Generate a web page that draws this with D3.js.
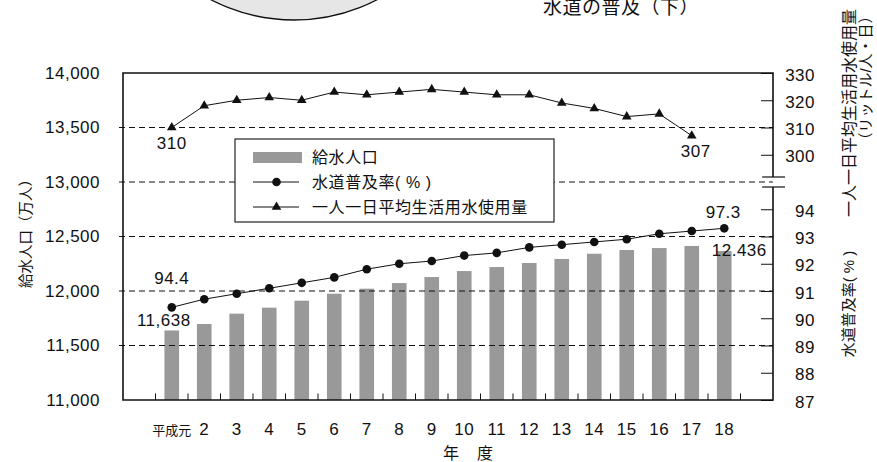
<!DOCTYPE html>
<html>
<head>
<meta charset="utf-8">
<script src="https://cdn.jsdelivr.net/npm/d3@7"></script>
<style>
  body { margin: 0; background: #fff; }
  svg { display: block; }
  text { font-family: "Liberation Sans", "Noto Sans CJK JP", sans-serif; fill: #111; }
  .num { font-size: 17px; letter-spacing: 0.5px; }
</style>
</head>
<body>
<svg id="chart" width="877" height="462"></svg>
<script>
// 年度 (平成)
const years = ["平成元", "2", "3", "4", "5", "6", "7", "8", "9", "10", "11", "12", "13", "14", "15", "16", "17", "18"];
// 給水人口 (万人)
const population = [11638, 11697, 11792, 11847, 11911, 11975, 12021, 12073, 12128, 12183, 12220, 12257, 12294, 12342, 12376, 12394, 12413, 12436];
// 水道普及率 (%)
const coverage = [94.4, 94.7, 94.9, 95.1, 95.3, 95.5, 95.8, 96.0, 96.1, 96.3, 96.4, 96.6, 96.7, 96.8, 96.9, 97.1, 97.2, 97.3];
// 一人一日平均生活用水使用量 (リットル/人・日), 平成元〜17
const usageYears = years.slice(0, 17);
const usage = [310, 318, 320, 321, 320, 323, 322, 323, 324, 323, 322, 322, 319, 317, 314, 315, 307];

// axis ticks
const popTicks = [11000, 11500, 12000, 12500, 13000, 13500, 14000];
const usageTicks = [300, 310, 320, 330];
const coverageTicks = [91, 92, 93, 94, 95, 96, 97, 98];
const coverageTickLabels = ["87", "88", "89", "90", "91", "92", "93", "94"];

const svg = d3.select("#chart");
const plotL = 123, plotR = 773, plotT = 73, plotB = 400;

const x = d3.scaleBand().domain(years).range([155.5, 740.5]).paddingInner(0.55).paddingOuter(0.275);
const cx = d => x(d) + x.bandwidth() / 2;
const yPop = d3.scaleLinear().domain([11000, 14000]).range([plotB, plotT]);
const yUse = d3.scaleLinear().domain([300, 330]).range([yPop(13250), plotT]);
const yCov = d3.scaleLinear().domain([91, 98]).range([plotB, yPop(11000 + 250 * 7)]);

// decorative disc at the top
svg.append("circle").attr("cx", 294).attr("cy", -160).attr("r", 180)
  .attr("fill", "#e6e6e6").attr("stroke", "#111").attr("stroke-width", 1.3);
svg.append("text").attr("x", 543).attr("y", 14).attr("font-size", 19)
  .attr("letter-spacing", 0.5).text("水道の普及（下）");

// bars
svg.append("g").selectAll("rect").data(population).join("rect")
  .attr("x", (d, i) => x(years[i]))
  .attr("width", x.bandwidth())
  .attr("y", d => yPop(d))
  .attr("height", d => plotB - yPop(d))
  .attr("fill", "#999");

// dashed grid
const grid = popTicks.filter(t => t > 11000 && t < 14000);
svg.append("g").selectAll("line").data(grid).join("line")
  .attr("x1", plotL - 4).attr("x2", plotR)
  .attr("y1", d => yPop(d)).attr("y2", d => yPop(d))
  .attr("stroke", "#111").attr("stroke-width", 1).attr("stroke-dasharray", "6,4");

// left axis labels
const axL = svg.append("g").attr("transform", `translate(${plotL},0)`)
  .call(d3.axisLeft(yPop).tickValues(popTicks).tickFormat(d3.format(",")).tickSize(0).tickPadding(23));
axL.select(".domain").remove();
axL.selectAll("text").attr("class", "num").attr("font-size", null).attr("font-family", null);

// right axis (upper: usage, lower: coverage)
const axU = svg.append("g").attr("transform", `translate(${plotR},0)`)
  .call(d3.axisRight(yUse).tickValues(usageTicks).tickSize(-12).tickPadding(0));
const axC = svg.append("g").attr("transform", `translate(${plotR},0)`)
  .call(d3.axisRight(yCov).tickValues(coverageTicks)
    .tickFormat((d, i) => coverageTickLabels[i]).tickSize(-12).tickPadding(0));
[axU, axC].forEach(g => {
  g.select(".domain").remove();
  g.selectAll("line").attr("stroke", "#111").attr("stroke-width", 1);
  g.selectAll("text").attr("class", "num").attr("font-size", null).attr("font-family", null)
    .attr("text-anchor", "end").attr("x", 42).attr("dy", "0.42em");
});

// frame with axis break on the right
const breakY = yPop(13000);
const frame = svg.append("g").attr("stroke", "#111").attr("stroke-width", 1.6).attr("fill", "none");
frame.append("path").attr("d", `M${plotR},${breakY - 5}V${plotT}H${plotL}V${plotB}H${plotR}V${breakY + 5}`);
frame.append("line").attr("x1", plotR - 11).attr("x2", plotR + 12).attr("y1", breakY - 5).attr("y2", breakY - 5).attr("stroke-width", 1.2);
frame.append("line").attr("x1", plotR - 11).attr("x2", plotR + 12).attr("y1", breakY + 5).attr("y2", breakY + 5).attr("stroke-width", 1.2);

// bottom ticks at band boundaries
const gap = (x.step() - x.bandwidth()) / 2;
const bounds = years.map(d => x(d) - gap).concat([x(years[years.length - 1]) + x.bandwidth() + gap]);
svg.append("g").selectAll("line").data(bounds).join("line")
  .attr("x1", d => d).attr("x2", d => d).attr("y1", plotB).attr("y2", plotB - 6.5)
  .attr("stroke", "#111").attr("stroke-width", 1);

// bottom labels
const axB = svg.append("g").attr("transform", `translate(0,${plotB})`)
  .call(d3.axisBottom(x).tickSize(0).tickPadding(23));
axB.select(".domain").remove();
axB.selectAll("text").attr("font-family", null).attr("font-size", null)
  .attr("class", d => d === "平成元" ? null : "num")
  .attr("font-size", d => d === "平成元" ? 13 : null)
  .attr("dy", d => d === "平成元" ? "0.95em" : "0.71em");
svg.append("text").attr("x", 443).attr("y", 459).attr("font-size", 16).text("年");
svg.append("text").attr("x", 477).attr("y", 459).attr("font-size", 16).text("度");

// axis titles
svg.append("text").attr("transform", "translate(31,230) rotate(-90)")
  .attr("text-anchor", "middle").attr("font-size", 14.5).text("給水人口（万人）");
svg.append("text").attr("transform", "translate(855,113) rotate(-90)")
  .attr("text-anchor", "middle").attr("font-size", 16).text("一人一日平均生活用水使用量");
svg.append("text").attr("transform", "translate(871,78) rotate(-90)")
  .attr("text-anchor", "middle").attr("font-size", 15).text("（リットル/人・日）");
svg.append("text").attr("transform", "translate(854,304) rotate(-90)")
  .attr("text-anchor", "middle").attr("font-size", 15).text("水道普及率( % )");

// legend
const lg = svg.append("g");
lg.append("rect").attr("x", 235).attr("y", 139).attr("width", 319).attr("height", 83)
  .attr("fill", "#fff").attr("stroke", "#222").attr("stroke-width", 1.2);
lg.append("rect").attr("x", 253).attr("y", 152).attr("width", 49).attr("height", 11).attr("fill", "#999");
[182, 207].forEach((ly, i) => {
  lg.append("line").attr("x1", 253).attr("x2", 299).attr("y1", ly).attr("y2", ly)
    .attr("stroke", "#111").attr("stroke-width", 1);
  if (i === 0) lg.append("circle").attr("cx", 276.5).attr("cy", ly).attr("r", 4.3).attr("fill", "#111");
  else lg.append("path").attr("d", d3.symbol(d3.symbolTriangle, 40)).attr("transform", `translate(276.5,${ly})`).attr("fill", "#111");
});
const legendItems = ["給水人口", "水道普及率( % )", "一人一日平均生活用水使用量"];
lg.selectAll("text.item").data(legendItems).join("text").attr("class", "item")
  .attr("x", 312).attr("y", (d, i) => 157.5 + i * 25).attr("dy", "0.36em")
  .attr("font-size", 16).attr("letter-spacing", 0.6).text(d => d);

// usage line
svg.append("path").datum(usage)
  .attr("d", d3.line().x((d, i) => cx(usageYears[i])).y(d => yUse(d)))
  .attr("fill", "none").attr("stroke", "#111").attr("stroke-width", 1);
svg.append("g").selectAll("path").data(usage).join("path")
  .attr("d", d3.symbol(d3.symbolTriangle, 40))
  .attr("transform", (d, i) => `translate(${cx(usageYears[i])},${yUse(d)})`)
  .attr("fill", "#111");

// coverage line
svg.append("path").datum(coverage)
  .attr("d", d3.line().x((d, i) => cx(years[i])).y(d => yCov(d)))
  .attr("fill", "none").attr("stroke", "#111").attr("stroke-width", 1);
svg.append("g").selectAll("circle").data(coverage).join("circle")
  .attr("cx", (d, i) => cx(years[i])).attr("cy", d => yCov(d)).attr("r", 4.3)
  .attr("fill", "#111");

// value labels
const last = years.length - 1;
const fmt = d3.format(",");
function label(txt, xx, yy, bg) {
  if (bg) {
    svg.append("rect").attr("x", xx - 29).attr("y", yy - 14).attr("width", 58).attr("height", 8.5).attr("fill", "#fff");
  }
  svg.append("text").attr("class", "num").attr("x", xx).attr("y", yy).attr("text-anchor", "middle").text(txt);
}
label(fmt(population[0]), cx(years[0]) - 8, yPop(population[0]) - 4);
label(coverage[0].toFixed(1), cx(years[0]), yCov(coverage[0]) - 23);
label(coverage[last].toFixed(1), cx(years[last]) - 1, yCov(coverage[last]) - 10);
label(fmt(population[last]).replace(",", "."), cx(years[last]) + 15, yPop(population[last]) + 13, true);
label(usage[0], cx(usageYears[0]), yUse(usage[0]) + 21);
label(usage[usage.length - 1], cx(usageYears[usage.length - 1]) + 4, yUse(usage[usage.length - 1]) + 21);
</script>
</body>
</html>
